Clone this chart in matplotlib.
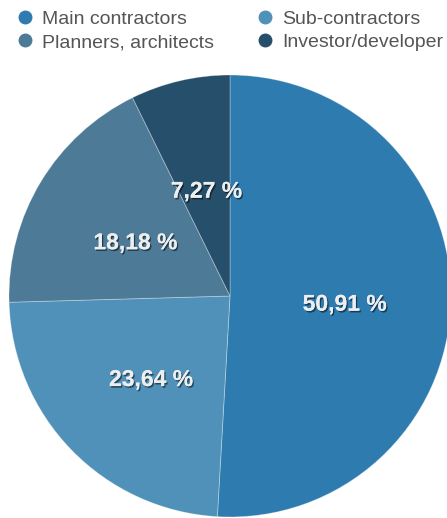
#!/usr/bin/env python3
"""Pie chart: share of respondents by company type."""
import matplotlib
matplotlib.use("Agg")
import matplotlib.pyplot as plt
import matplotlib.patheffects as pe
import matplotlib.transforms as mtransforms
from matplotlib.lines import Line2D

categories = ["Main contractors", "Sub-contractors", "Planners, architects", "Investor/developer"]
shares = [50.91, 23.64, 18.18, 7.27]
colors = ["#2E7BB0", "#5091B9", "#4D7A96", "#264F6B"]

W, H = 447, 518
CX, CY, R = 230, 296, 221  # pie centre / radius in pixels

plt.rcParams["font.family"] = ["Liberation Sans", "DejaVu Sans"]
fig = plt.figure(figsize=(W / 100, H / 100), dpi=100)
ax = fig.add_axes([0, 0, 1, 1])

wedges, _, autotexts = ax.pie(
    shares, colors=colors, startangle=90, counterclock=False,
    radius=1.0, pctdistance=0.51,
    autopct=lambda p: f"{p:.2f} %".replace(".", ","),
    wedgeprops=dict(edgecolor=(1, 1, 1, 0.35), linewidth=0.6),
)
# pie() resets limits, so place the circle afterwards
ax.set_xlim(-CX / R, (W - CX) / R)
ax.set_ylim(-(H - CY) / R, CY / R)
ax.set_aspect("equal")
ax.axis("off")

shift = mtransforms.offset_copy(ax.transData, fig=fig, x=2, y=-5, units="dots")
for t in autotexts:
    t.set_transform(shift)
    t.set_color("#ECEEF0")
    t.set_fontsize(16.5)
    t.set_fontweight("semibold")
    t.set_path_effects([pe.withSimplePatchShadow(offset=(1, -1.2), shadow_rgbFace="black", alpha=0.5),
                        pe.Normal()])

# legend: column-major order -> Main, Planners | Sub, Investor
order = [0, 2, 1, 3]
handles = [Line2D([], [], marker="o", ls="", markersize=9, color=colors[i]) for i in order]
labels = [categories[i] for i in order]
fig.legend(handles, labels, ncol=2, loc="upper left", bbox_to_anchor=(-0.005, 1.01),
           frameon=False, fontsize=14, labelcolor="#555555", handletextpad=0.3,
           columnspacing=2.0, labelspacing=0.28, handlelength=1.2, borderpad=0.3)

fig.savefig("out.png", dpi=100)
